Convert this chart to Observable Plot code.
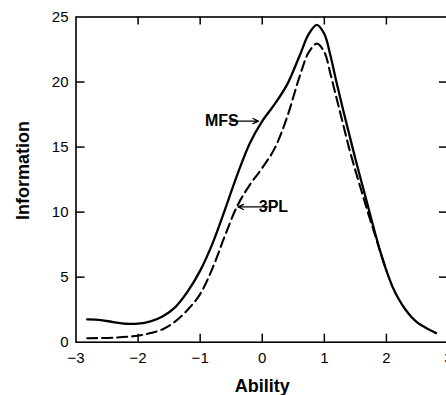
<!DOCTYPE html>
<html><head><meta charset="utf-8">
<script src="https://cdn.jsdelivr.net/npm/d3@7"></script>
<script src="https://cdn.jsdelivr.net/npm/@observablehq/plot@0.6"></script>
<style>html,body{margin:0;padding:0;background:#fff;overflow:hidden}</style>
</head><body><div id="chart"></div>
<script>
// Test information curves
const abilityMFS = [-2.82,-2.6,-2.4,-2.2,-2.0,-1.8,-1.6,-1.4,-1.2,-1.0,-0.8,-0.6,-0.4,-0.2,0.0,0.2,0.4,0.6,0.75,0.88,1.0,1.1,1.2,1.3,1.4,1.5,1.6,1.7,1.8,1.9,2.0,2.1,2.2,2.3,2.4,2.5,2.6,2.7,2.8];
const infoMFS    = [1.75,1.7,1.55,1.42,1.42,1.6,2.0,2.7,3.9,5.5,7.6,10.2,12.9,15.3,17.0,18.3,19.8,22.0,23.7,24.4,23.7,22.0,19.9,17.9,16.0,14.1,12.3,10.5,8.7,7.0,5.5,4.25,3.3,2.55,1.95,1.5,1.2,0.93,0.7];
const ability3PL = [-2.82,-2.4,-2.0,-1.8,-1.6,-1.4,-1.2,-1.0,-0.8,-0.6,-0.4,-0.2,0.0,0.2,0.4,0.6,0.75,0.88,1.0,1.1,1.2,1.3,1.4,1.5,1.6,1.7,1.8,1.9,2.0];
const info3PL    = [0.3,0.35,0.5,0.7,1.0,1.6,2.5,3.7,5.7,8.2,10.5,12.1,13.4,14.9,17.3,20.4,22.3,22.95,22.3,20.6,18.7,16.8,14.9,13.2,11.6,10.0,8.5,6.95,5.5];

const xTicks = [-3,-2,-1,0,1,2,3];
const yTicks = [0,5,10,15,20,25];
const innerXTicks = [-2,-1,0,1,2];
const innerYTicks = [5,10,15,20];

// annotations
const annText  = ["MFS","3PL"];
const annTextX = [-0.65, 0.18];
const annAnchor = ["end","start"];
const annY     = [17.0, 10.4];
const arrowFromX = [-0.52, 0.09];
const arrowToX   = [-0.06, -0.39];

const mfs = abilityMFS.map((x,i)=>({x, y: infoMFS[i]}));
const tpl = ability3PL.map((x,i)=>({x, y: info3PL[i]}));
const ann = annText.map((t,i)=>({t, x: annTextX[i], y: annY[i], a: annAnchor[i], x1: arrowFromX[i], x2: arrowToX[i]}));

const W = 446, H = 395, mL = 75.5, mR = -2, mT = 16.5, mB = 53.3;
const innerW = W - mL - mR, innerH = H - mT - mB;

const chart = Plot.plot({
  width: W, height: H,
  marginLeft: mL, marginRight: mR, marginTop: mT, marginBottom: mB,
  x: {domain: [-3, 3]},
  y: {domain: [0, 25]},
  style: {fontFamily: "'Liberation Sans', Arial, sans-serif", fontSize: "15px", color: "#000", background: "#fff"},
  marks: [
    Plot.axisX(xTicks, {tickSize: 0, tickPadding: 10, label: null, fontSize: 15}),
    Plot.axisY(yTicks, {tickSize: 0, tickPadding: 7.5, label: null, fontSize: 15}),
    Plot.frame({stroke: "#000", strokeWidth: 1.6}),
    Plot.tickX(innerXTicks, {x: d => d, insetBottom: innerH - 8, strokeWidth: 1.5}),
    Plot.tickX(innerXTicks, {x: d => d, insetTop: innerH - 8, strokeWidth: 1.5}),
    Plot.tickY(innerYTicks, {y: d => d, insetRight: innerW - 9, strokeWidth: 1.5}),
    Plot.tickY(innerYTicks, {y: d => d, insetLeft: innerW - 9, strokeWidth: 1.5}),
    Plot.line(mfs, {x: "x", y: "y", curve: "catmull-rom", stroke: "#000", strokeWidth: 2.3}),
    Plot.line(tpl, {x: "x", y: "y", curve: "catmull-rom", stroke: "#000", strokeWidth: 2.1, strokeDasharray: "10,5"}),
    Plot.arrow(ann, {x1: "x1", y1: "y", x2: "x2", y2: "y", stroke: "#000", strokeWidth: 1.3, headLength: 7, headAngle: 50}),
    Plot.text(ann, {x: "x", y: "y", text: "t", textAnchor: d => d.a, fontSize: 16, fontWeight: "bold", fill: "#000"}),
    Plot.text(["Ability"], {text: d => d, frameAnchor: "bottom", lineAnchor: "bottom", dy: 50, fontSize: 18, fontWeight: "bold", fill: "#000"}),
    Plot.text(["Information"], {text: d => d, frameAnchor: "left", rotate: -90, textAnchor: "middle", lineAnchor: "bottom", dx: -47.5, dy: -9, fontSize: 18, fontWeight: "bold", fill: "#000"})
  ]
});
document.getElementById("chart").appendChild(chart);
</script>
</body></html>
